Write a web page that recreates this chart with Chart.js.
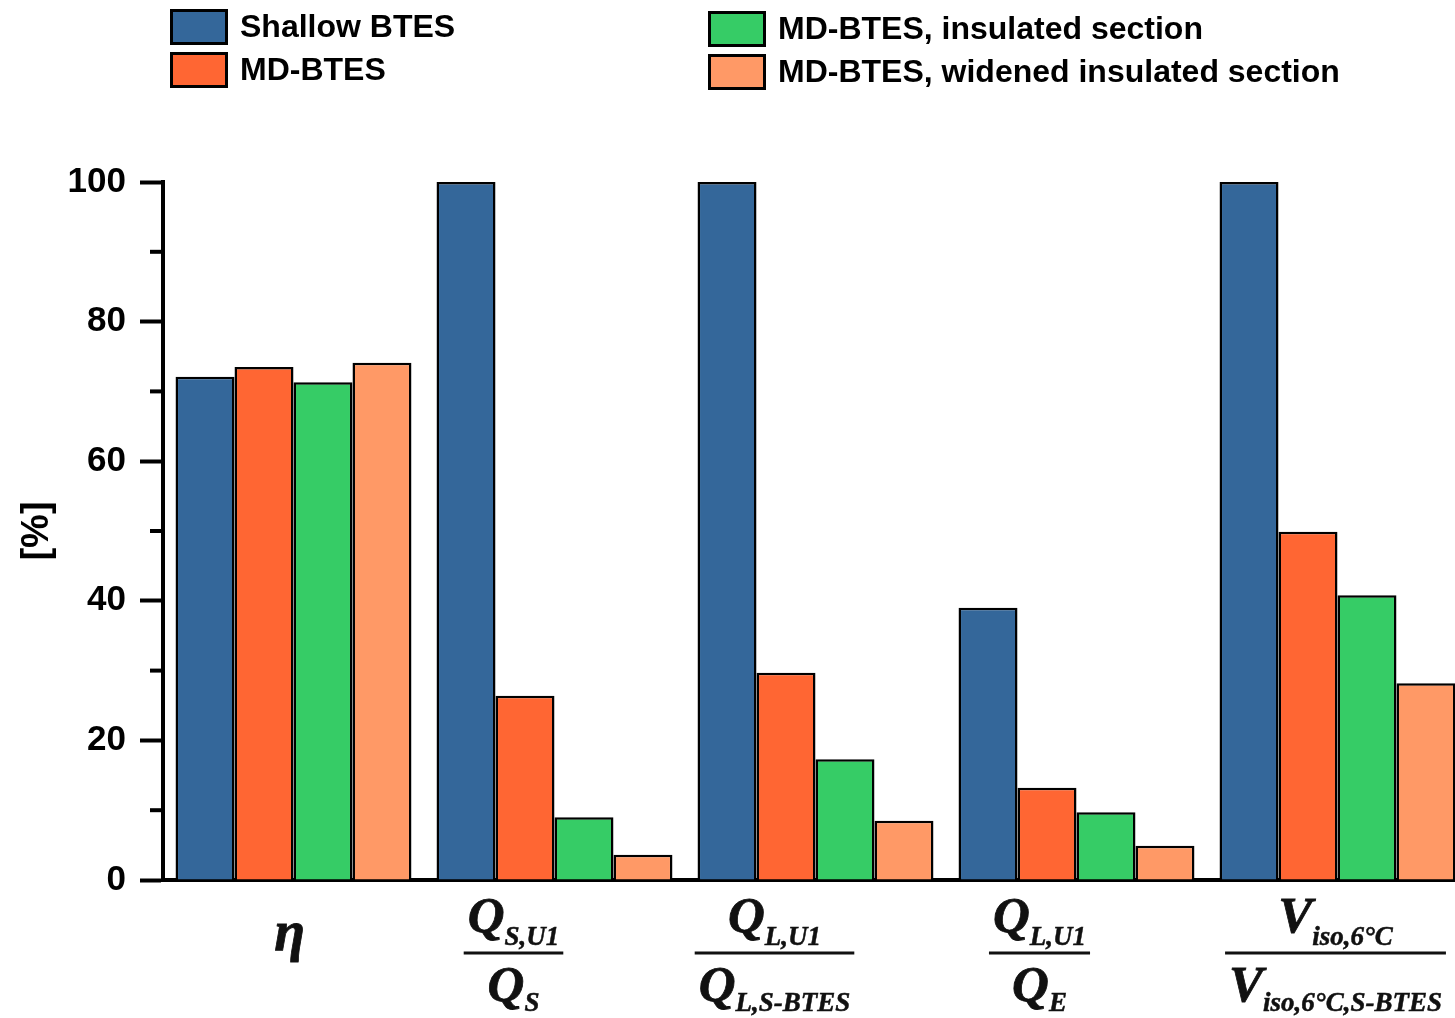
<!DOCTYPE html>
<html>
<head>
<meta charset="utf-8">
<script src="https://cdn.jsdelivr.net/npm/chart.js@4/dist/chart.umd.min.js"></script>
<style>
html,body{margin:0;padding:0;background:#fff;overflow:hidden;width:1455px;height:1018px;}
#wrap{position:absolute;left:0;top:0;width:1468px;height:1018px;}
</style>
</head>
<body>
<div id="wrap"><canvas id="c" width="1468" height="1018"></canvas></div>
<script>
// ---- data ----
const categories = ['η', 'Q_S,U1 / Q_S', 'Q_L,U1 / Q_L,S-BTES', 'Q_L,U1 / Q_E', 'V_iso,6°C / V_iso,6°C,S-BTES'];
const numerators = [['η', ''], ['Q', 'S,U1'], ['Q', 'L,U1'], ['Q', 'L,U1'], ['V', 'iso,6°C']];
const denominators = [null, ['Q', 'S'], ['Q', 'L,S-BTES'], ['Q', 'E'], ['V', 'iso,6°C,S-BTES']];
const seriesNames = ['Shallow BTES', 'MD-BTES', 'MD-BTES, insulated section', 'MD-BTES, widened insulated section'];
const shallowBTES = [72.1, 100, 100, 39.0, 100];
const mdBTES = [73.5, 26.4, 29.7, 13.2, 49.9];
const mdInsulated = [71.3, 9.0, 17.3, 9.7, 40.8];
const mdWidened = [74.1, 3.6, 8.5, 4.9, 28.2];
const yTicks = [0, 20, 40, 60, 80, 100];
const yMinorTicks = [10, 30, 50, 70, 90];

// ---- styles ----
const colors = ['#34679A', '#FF6633', '#36CC66', '#FF9966'];
const labelDx = [-4, -41, -41, -37, -2];
const sansFont = '"Liberation Sans", Arial, sans-serif';
const serifFont = '"Liberation Serif", "Times New Roman", serif';

const legendPlugin = {
  id: 'customLegend',
  afterDraw(chart) {
    const ctx = chart.ctx;
    const pos = [
      {x: 170, y: 9}, {x: 170, y: 52}, {x: 708, y: 11}, {x: 708, y: 54}
    ];
    ctx.save();
    chart.data.datasets.forEach((ds, i) => {
      const p = pos[i];
      ctx.fillStyle = ds.backgroundColor;
      ctx.fillRect(p.x, p.y, 58, 36);
      ctx.lineWidth = 3;
      ctx.strokeStyle = '#000';
      ctx.strokeRect(p.x + 1.5, p.y + 1.5, 55, 33);
      ctx.fillStyle = '#000';
      ctx.font = 'bold 32px ' + sansFont;
      ctx.textBaseline = 'middle';
      ctx.textAlign = 'left';
      ctx.fillText(ds.label, p.x + 70, p.y + 19);
    });
    ctx.restore();
  }
};

function subWidth(ctx, pair, mainSize, subSize) {
  ctx.font = 'italic bold ' + mainSize + 'px ' + serifFont;
  const w1 = ctx.measureText(pair[0]).width;
  ctx.font = 'italic bold ' + subSize + 'px ' + serifFont;
  const w2 = pair[1] ? ctx.measureText(pair[1]).width : 0;
  return {w1, w2, w: w1 + w2};
}
function drawSub(ctx, pair, cx, base, mainSize, subSize, subDrop) {
  const m = subWidth(ctx, pair, mainSize, subSize);
  const x0 = cx - m.w / 2;
  ctx.textAlign = 'left';
  ctx.textBaseline = 'alphabetic';
  ctx.font = 'italic bold ' + mainSize + 'px ' + serifFont;
  ctx.fillText(pair[0], x0, base);
  ctx.lineWidth = 0.8;
  ctx.strokeText(pair[0], x0, base);
  if (pair[1]) {
    ctx.font = 'italic bold ' + subSize + 'px ' + serifFont;
    ctx.fillText(pair[1], x0 + m.w1, base + subDrop);
    ctx.lineWidth = 0.5;
    ctx.strokeText(pair[1], x0 + m.w1, base + subDrop);
  }
  return m.w;
}

const axisDecor = {
  id: 'axisDecor',
  afterDraw(chart) {
    const ctx = chart.ctx;
    const y = chart.scales.y, x = chart.scales.x;
    ctx.save();
    // minor ticks
    ctx.strokeStyle = '#000';
    ctx.lineWidth = 4;
    yMinorTicks.forEach(v => {
      const py = y.getPixelForValue(v);
      ctx.beginPath();
      ctx.moveTo(chart.chartArea.left - 13, py);
      ctx.lineTo(chart.chartArea.left, py);
      ctx.stroke();
    });
    // y title
    ctx.fillStyle = '#000';
    ctx.font = 'bold 38px ' + sansFont;
    ctx.translate(38, (chart.chartArea.top + chart.chartArea.bottom) / 2);
    ctx.rotate(-Math.PI / 2);
    ctx.textAlign = 'center';
    ctx.textBaseline = 'middle';
    ctx.fillText('[%]', 0, 0);
    ctx.restore();

    // category labels (fractions)
    ctx.save();
    ctx.fillStyle = '#111';
    ctx.strokeStyle = '#111';
    numerators.forEach((num, i) => {
      const cx = x.getPixelForValue(i) + labelDx[i];
      const den = denominators[i];
      if (!den) {
        ctx.font = 'italic bold 56px ' + serifFont;
        ctx.textAlign = 'center';
        ctx.textBaseline = 'alphabetic';
        ctx.fillText(num[0], cx, 950);
        ctx.lineWidth = 0.8;
        ctx.strokeText(num[0], cx, 950);
        return;
      }
      const wn = subWidth(ctx, num, 51, 27).w;
      const wd = subWidth(ctx, den, 51, 27).w;
      drawSub(ctx, num, cx, 932, 51, 27, 13);
      drawSub(ctx, den, cx, 1001, 51, 27, 10);
      const lw = Math.max(wn, wd) + 8;
      ctx.lineWidth = 3;
      ctx.beginPath();
      ctx.moveTo(cx - lw / 2, 953);
      ctx.lineTo(cx + lw / 2, 953);
      ctx.stroke();
    });
    ctx.restore();
  }
};

const seriesData = [shallowBTES, mdBTES, mdInsulated, mdWidened];
new Chart(document.getElementById('c'), {
  type: 'bar',
  data: {
    labels: categories,
    datasets: seriesData.map((d, i) => ({
      label: seriesNames[i],
      data: d,
      backgroundColor: colors[i],
      borderColor: '#000',
      borderWidth: 2.5,
      barPercentage: 1.0,
      categoryPercentage: 0.904
    }))
  },
  options: {
    responsive: false,
    animation: false,
    devicePixelRatio: 1,
    layout: {padding: {top: 182, left: 0, right: 0, bottom: 0}},
    plugins: {legend: {display: false}, tooltip: {enabled: false}},
    scales: {
      x: {
        grid: {display: false},
        border: {display: true, color: '#000', width: 4},
        ticks: {display: false},
        afterFit: s => { s.height = 138; }
      },
      y: {
        min: 0, max: 100,
        afterBuildTicks: s => { s.ticks = yTicks.map(v => ({value: v})); },
        grid: {display: true, drawOnChartArea: false, drawTicks: true, tickLength: 23, tickWidth: 4, tickColor: '#000'},
        border: {display: true, color: '#000', width: 4},
        ticks: {color: '#000', padding: 14, font: {family: sansFont, size: 35, weight: 'bold'}},
        afterFit: s => { s.width = 163; }
      }
    }
  },
  plugins: [legendPlugin, axisDecor]
});
</script>
</body>
</html>
